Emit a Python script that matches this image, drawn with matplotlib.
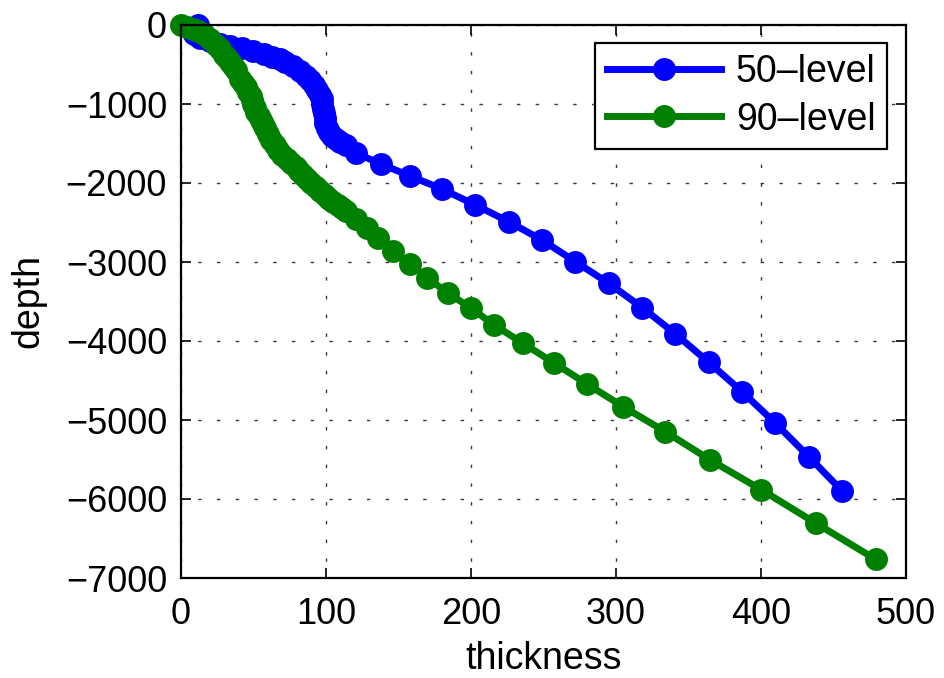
import matplotlib
matplotlib.use("Agg")
import matplotlib.pyplot as plt

plt.rcParams['font.family'] = ['Liberation Sans', 'DejaVu Sans']

# 50-level profile: (thickness, depth)
thick_50 = [12, 9, 13, 20, 27, 34, 42, 50, 57, 63,
            68, 72, 77, 82, 86, 89, 92, 94, 96, 97,
            97.5, 98, 98.5, 99, 99.5, 100.5, 102, 104, 107, 110,
            114, 121, 138, 157.7, 180, 203, 226, 249, 272, 295,
            318, 341, 364, 387, 410, 433, 456]
depth_50 = [0, -110, -160, -200, -236, -265, -295, -333, -365, -400,
            -435, -470, -520, -580, -640, -700, -760, -820, -880, -940,
            -1000, -1060, -1120, -1180, -1240, -1300, -1350, -1400, -1440, -1475,
            -1520, -1624, -1760, -1910, -2076, -2278, -2490, -2722, -2996, -3270,
            -3576, -3911, -4270, -4642, -5042, -5465, -5899]

# 90-level profile: (thickness, depth)
thick_90 = [0, 4, 8, 12, 16, 20, 24, 27, 30, 32,
            34, 36, 38, 41, 43, 45, 46.5, 48, 49, 50,
            51, 52, 53.5, 55, 56.5, 58, 60, 62, 64.5, 67,
            70, 73, 76, 79, 81.5, 84, 87, 90, 93, 96,
            99, 102, 105, 108, 111, 114, 121, 128, 136, 146,
            157.7, 170, 184, 200, 216, 236, 257, 280, 305, 334,
            365, 400, 438, 479]
depth_90 = [0, -20, -45, -80, -120, -180, -257, -310, -375, -420,
            -468, -520, -570, -680, -735, -790, -845, -900, -950, -1000,
            -1050, -1100, -1150, -1200, -1255, -1310, -1380, -1450, -1515, -1580,
            -1640, -1700, -1750, -1800, -1850, -1900, -1950, -2000, -2050, -2100,
            -2150, -2200, -2240, -2280, -2315, -2350, -2450, -2570, -2700, -2860,
            -3020, -3207, -3389, -3586, -3797, -4030, -4275, -4544, -4832, -5148,
            -5506, -5880, -6308, -6763]

series_labels = ['50\u2013level', '90\u2013level']
x_ticks = [0, 100, 200, 300, 400, 500]
y_ticks = [-7000, -6000, -5000, -4000, -3000, -2000, -1000, 0]

TICK_FS = 26
LABEL_FS = 27

fig = plt.figure(figsize=(9.45, 6.78), dpi=100)
ax = fig.add_axes([181 / 945, 1 - 578 / 678, (906 - 181) / 945, (578 - 25) / 678])

style = dict(linewidth=5, marker='o', markersize=15, markeredgewidth=1.5)
ax.plot(thick_50, depth_50, color=(0, 0, 1), label=series_labels[0],
        clip_on=False, **style)
ax.plot(thick_90, depth_90, color=(0, 0.5, 0), label=series_labels[1],
        clip_on=False, **style)

ax.set_xlim(0, 500)
ax.set_ylim(-7000, 0)
ax.set_xticks(x_ticks)
ax.set_yticks(y_ticks)

ax.grid(True, color='#3a3a3a', linestyle=(1.5, (2.5, 11)), linewidth=1.0)
ax.set_axisbelow(True)

for s in ax.spines.values():
    s.set_linewidth(1.6)
    s.set_color('black')

ax.tick_params(direction='in', length=7, width=1.2, top=True, right=True,
               labelsize=TICK_FS)
ax.tick_params(axis='x', pad=14)
ax.tick_params(axis='y', pad=10)

ax.set_xlabel('thickness', fontsize=LABEL_FS, labelpad=6)
ax.set_ylabel('depth', fontsize=LABEL_FS, labelpad=14)

leg = ax.legend(loc='upper right', bbox_to_anchor=(887 / 945, 1 - 43 / 678),
                bbox_transform=fig.transFigure, borderaxespad=0,
                fontsize=LABEL_FS, numpoints=1, handlelength=3.05,
                handletextpad=0.4, labelspacing=0.3, borderpad=0.3,
                fancybox=False, framealpha=1, edgecolor='black')
leg.get_frame().set_linewidth(1.6)

fig.savefig('out.png', dpi=100)
